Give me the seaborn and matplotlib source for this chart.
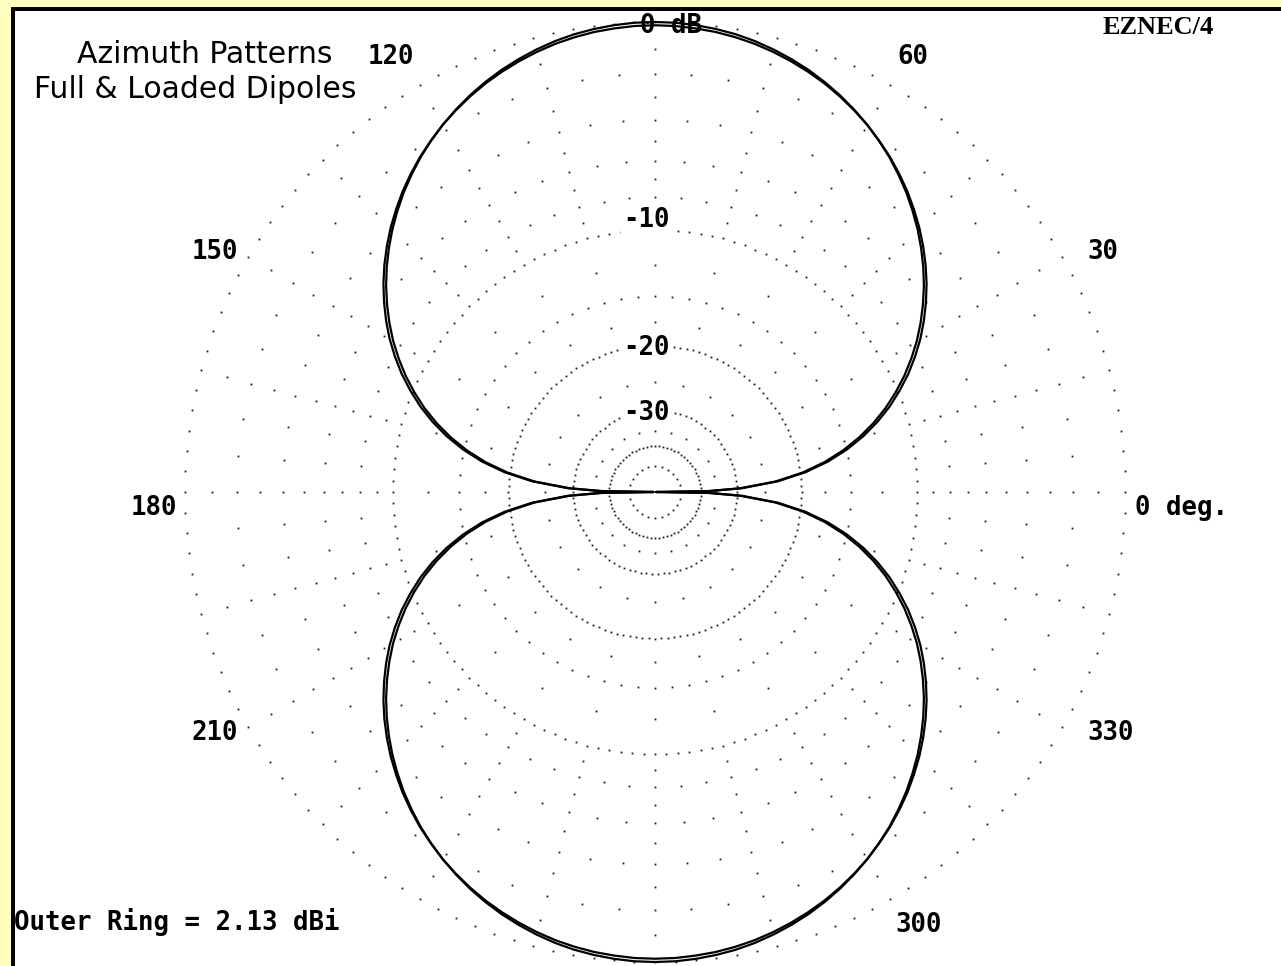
import numpy as np
import pandas as pd
import matplotlib
matplotlib.use("Agg")
import matplotlib.pyplot as plt
from matplotlib.patches import Rectangle
import seaborn as sns

# ---- pattern data: azimuth (deg, 0 = +x, counter-clockwise), field in dB relative to outer ring
azimuth_deg = [
    0, 1, 2.5, 5, 7.5, 10, 12.5, 15, 17.5, 20, 22.5, 25, 27.5, 30, 32.5, 35, 37.5, 40, 42.5,
    45, 47.5, 50, 52.5, 55, 57.5, 60, 62.5, 65, 67.5, 70, 72.5, 75, 77.5, 80, 82.5, 85, 87.5, 90,
    92.5, 95, 97.5, 100, 102.5, 105, 107.5, 110, 112.5, 115, 117.5, 120, 122.5, 125, 127.5, 130,
    132.5, 135, 137.5, 140, 142.5, 145, 147.5, 150, 152.5, 155, 157.5, 160, 162.5, 165, 167.5,
    170, 172.5, 175, 177.5, 179, 180,
    181, 182.5, 185, 187.5, 190, 192.5, 195, 197.5, 200, 202.5, 205, 207.5, 210, 212.5, 215,
    217.5, 220, 222.5, 225, 227.5, 230, 232.5, 235, 237.5, 240, 242.5, 245, 247.5, 250, 252.5,
    255, 257.5, 260, 262.5, 265, 267.5, 270,
    272.5, 275, 277.5, 280, 282.5, 285, 287.5, 290, 292.5, 295, 297.5, 300, 302.5, 305, 307.5,
    310, 312.5, 315, 317.5, 320, 322.5, 325, 327.5, 330, 332.5, 335, 337.5, 340, 342.5, 345,
    347.5, 350, 352.5, 355, 357.5, 359, 360,
]
full_dipole_db = [
    -99.9, -37.3, -29.3, -23.27, -19.74, -17.23, -15.29, -13.70, -12.34, -11.16, -10.13, -9.19,
    -8.35, -7.57, -6.87, -6.22, -5.61, -5.05, -4.53, -4.04, -3.59, -3.16, -2.77, -2.40, -2.07,
    -1.76, -1.48, -1.22, -0.99, -0.78, -0.60, -0.44, -0.30, -0.19, -0.11, -0.05, -0.01, 0.0,
    -0.01, -0.05, -0.11, -0.19, -0.30, -0.44, -0.60, -0.78, -0.99, -1.22, -1.48, -1.76, -2.07,
    -2.40, -2.77, -3.16, -3.59, -4.04, -4.53, -5.05, -5.61, -6.22, -6.87, -7.57, -8.35, -9.19,
    -10.13, -11.16, -12.34, -13.70, -15.29, -17.23, -19.74, -23.27, -29.3, -37.3, -99.9,
    -37.3, -29.3, -23.27, -19.74, -17.23, -15.29, -13.70, -12.34, -11.16, -10.13, -9.19,
    -8.35, -7.57, -6.87, -6.22, -5.61, -5.05, -4.53, -4.04, -3.59, -3.16, -2.77, -2.40, -2.07,
    -1.76, -1.48, -1.22, -0.99, -0.78, -0.60, -0.44, -0.30, -0.19, -0.11, -0.05, -0.01, 0.0,
    -0.01, -0.05, -0.11, -0.19, -0.30, -0.44, -0.60, -0.78, -0.99, -1.22, -1.48, -1.76, -2.07,
    -2.40, -2.77, -3.16, -3.59, -4.04, -4.53, -5.05, -5.61, -6.22, -6.87, -7.57, -8.35, -9.19,
    -10.13, -11.16, -12.34, -13.70, -15.29, -17.23, -19.74, -23.27, -29.3, -37.3, -99.9,
]
loaded_dipole_db = [
    -99.9, -36.9, -28.9, -22.92, -19.39, -16.88, -14.95, -13.37, -12.03, -10.86, -9.85, -8.92,
    -8.10, -7.34, -6.66, -6.03, -5.44, -4.90, -4.40, -3.93, -3.50, -3.09, -2.72, -2.37, -2.06,
    -1.76, -1.50, -1.26, -1.04, -0.85, -0.68, -0.53, -0.40, -0.30, -0.22, -0.17, -0.13, -0.12,
    -0.13, -0.17, -0.22, -0.30, -0.40, -0.53, -0.68, -0.85, -1.04, -1.26, -1.50, -1.76, -2.06,
    -2.37, -2.72, -3.09, -3.50, -3.93, -4.40, -4.90, -5.44, -6.03, -6.66, -7.34, -8.10, -8.92,
    -9.85, -10.86, -12.03, -13.37, -14.95, -16.88, -19.39, -22.92, -28.9, -36.9, -99.9,
    -36.9, -28.9, -22.92, -19.39, -16.88, -14.95, -13.37, -12.03, -10.86, -9.85, -8.92,
    -8.10, -7.34, -6.66, -6.03, -5.44, -4.90, -4.40, -3.93, -3.50, -3.09, -2.72, -2.37, -2.06,
    -1.76, -1.50, -1.26, -1.04, -0.85, -0.68, -0.53, -0.40, -0.30, -0.22, -0.17, -0.13, -0.12,
    -0.13, -0.17, -0.22, -0.30, -0.40, -0.53, -0.68, -0.85, -1.04, -1.26, -1.50, -1.76, -2.06,
    -2.37, -2.72, -3.09, -3.50, -3.93, -4.40, -4.90, -5.44, -6.03, -6.66, -7.34, -8.10, -8.92,
    -9.85, -10.86, -12.03, -13.37, -14.95, -16.88, -19.39, -22.92, -28.9, -36.9, -99.9,
]
series_names = ["Full Dipole", "Loaded Dipole"]

ring_db = [0, -10, -20, -30, -40, -50]
ring_step_deg = [2.5, 2.5, 2.5, 4, 5, 15]
ring_labels = ["0 dB", "-10", "-20", "-30"]
bearing_labels = ["120", "60", "150", "30", "180", "0 deg.", "210", "330", "300"]
title_lines = ["Azimuth Patterns", "Full & Loaded Dipoles"]
outer_ring_dbi = 2.13
program_tag = "EZNEC/4"

# ---- page geometry (pixels)
W, H, DPI = 1281, 966, 100
CX, CY, R = 655, 492, 470
YELLOW = "#FFFFC0"
DOT_C = "#1a1a1a"
DOT_MS = 1.3

sns.set_theme(style="white")
plt.rcParams["font.family"] = ["DejaVu Sans"]

fig = plt.figure(figsize=(W / DPI, H / DPI), dpi=DPI, facecolor=YELLOW)


def px_rect(x0, y0, x1, y1, color):
    fig.add_artist(Rectangle((x0 / W, 1 - y1 / H), (x1 - x0) / W, (y1 - y0) / H,
                             transform=fig.transFigure, facecolor=color,
                             edgecolor="none", zorder=-2))


# white plotting panel with a black rule on its left and top
px_rect(11, 7, W, H, "black")
px_rect(15, 11, W, H, "white")

ax = fig.add_axes([(CX - R) / W, (H - CY - R) / H, 2 * R / W, 2 * R / H], projection="polar")
ax.set_facecolor("none")
ax.spines["polar"].set_visible(False)
ax.grid(False)

# ARRL log-periodic radial scale: radius shrinks by 0.89 every 2 dB
K = -np.log(0.89) / 2.0


def to_radius(db):
    return np.exp(np.asarray(db, dtype=float) * K)


def from_radius(r):
    return np.log(np.clip(np.asarray(r, dtype=float), 1e-12, None)) / K


ax.set_rscale("function", functions=(to_radius, from_radius))


def dots(theta_deg, db):
    theta_deg = np.asarray(theta_deg, dtype=float)
    ax.plot(np.deg2rad(theta_deg), np.full(theta_deg.shape, db, dtype=float),
            ls="none", marker="s", ms=DOT_MS, mew=0, color=DOT_C,
            clip_on=False, zorder=1)


# dotted rings
for db, step in zip(ring_db, ring_step_deg):
    dots(np.arange(0, 360, step), db)

# dotted radials between the rings
every5 = np.arange(0, 360, 5)
every15 = np.arange(0, 360, 15)
for db in (-2, -4, -6, -8, -15):
    dots(every5, db)
for db in (-1, -3, -5, -7, -9, -12.5, -17.5, -25, -35):
    dots(every15, db)

# the two patterns
df = pd.DataFrame({
    "theta": np.deg2rad(np.concatenate([azimuth_deg, azimuth_deg])),
    "gain": np.concatenate([full_dipole_db, loaded_dipole_db]),
    "antenna": np.repeat(series_names, len(azimuth_deg)),
})
sns.lineplot(data=df, x="theta", y="gain", hue="antenna", palette=["black", "black"],
             sort=False, estimator=None, legend=False, ax=ax, linewidth=1.6)
for ln in ax.lines:
    ln.set_clip_on(False)
for ln in ax.lines[-2:]:
    ln.set_zorder(2)
    ln.set_solid_joinstyle("round")

ax.set_autoscale_on(False)
ax.set_rlim(-300, 0)
ax.set_xticks([])
ax.set_yticks([])
ax.set_xlabel("")
ax.set_ylabel("")


def ptext(x, y, s, ha="left", **kw):
    return fig.text(x / W, 1 - y / H, s, ha=ha, va="baseline", **kw)


MONO = dict(family="DejaVu Sans Mono", weight="bold", size=18.5, color="black")

# bearing labels (x, baseline y, alignment)
bearing_pos = [(368, 64, "left"), (897, 64, "left"), (238, 259, "right"), (1087, 259, "left"),
               (177, 515, "right"), (1135, 515, "left"), (238, 740, "right"), (1087, 740, "left"),
               (895, 932, "left")]
for lab, (x, y, ha) in zip(bearing_labels, bearing_pos):
    ptext(x, y, lab, ha=ha, zorder=5, **MONO)

# ring labels
ring_pos = [(640, 33), (623, 227), (623, 355), (623, 420)]
for i, (lab, (x, y)) in enumerate(zip(ring_labels, ring_pos)):
    if i == 0:
        ptext(x, y, lab, zorder=5, **MONO)
    else:
        ptext(x, y, lab, zorder=5,
              bbox=dict(facecolor="white", edgecolor="none", pad=1.5), **MONO)

ptext(14, 930, f"Outer Ring = {outer_ring_dbi:.2f} dBi", zorder=5, **MONO)
ptext(1103, 34, program_tag, family="Liberation Serif", weight="bold", size=19, color="black", zorder=5)

TITLE = dict(family="DejaVu Sans", size=21.5, color="black")
ptext(205, 63, title_lines[0], ha="center", zorder=5, **TITLE)
ptext(195, 98, title_lines[1], ha="center", zorder=5, **TITLE)

fig.savefig("out.png", dpi=DPI, facecolor=YELLOW)
